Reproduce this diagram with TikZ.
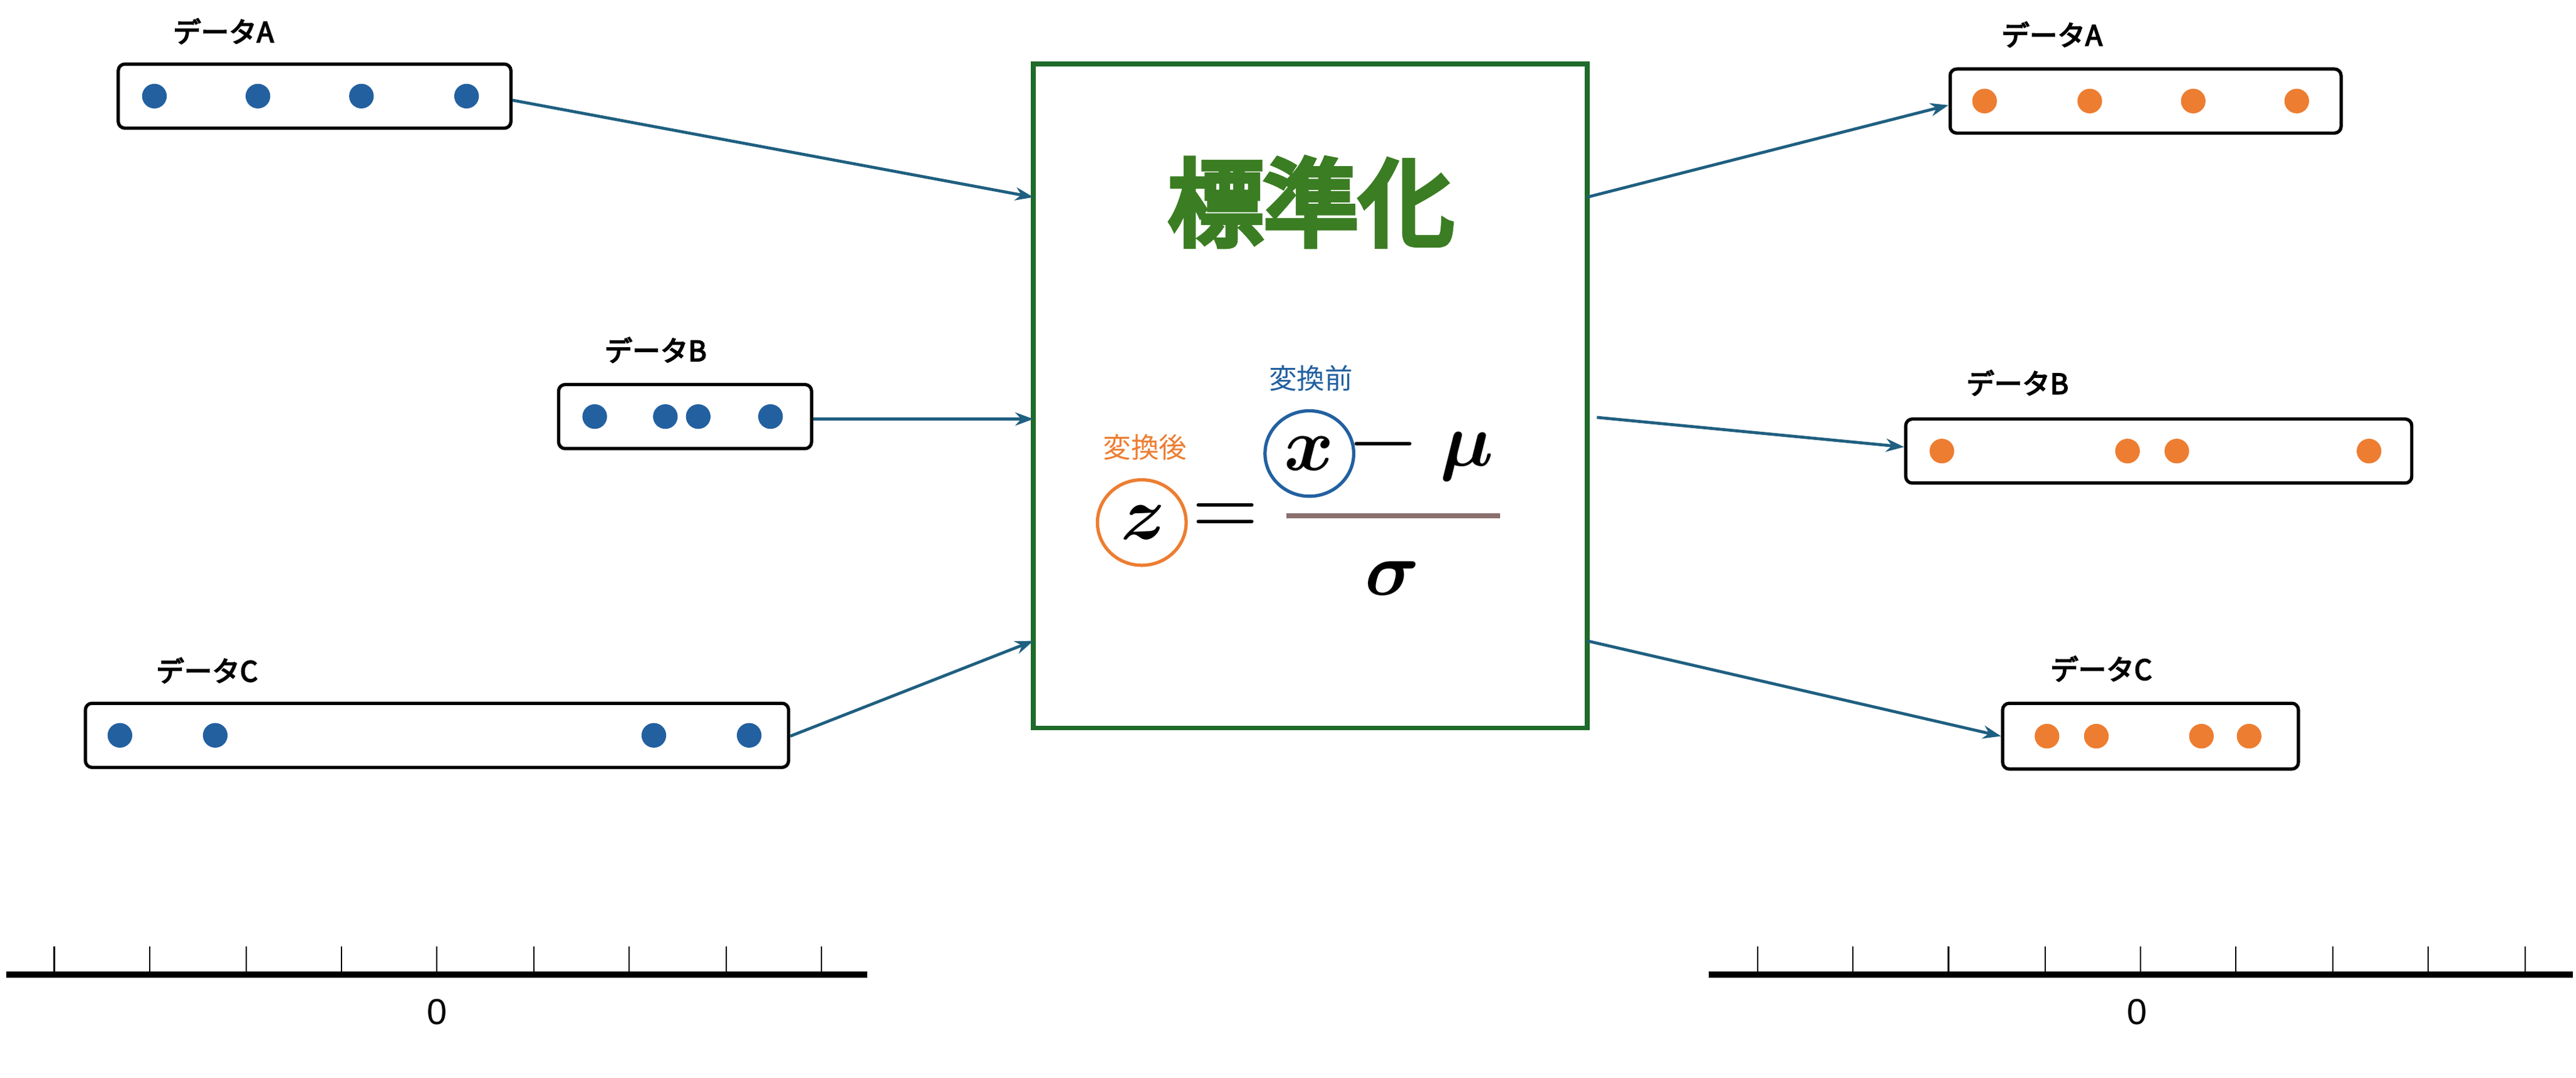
\documentclass[tikz,border=0pt]{standalone}
\usetikzlibrary{shapes.geometric,arrows.meta}
\usepackage{fontspec}
\setmainfont{Liberation Sans}
\newfontfamily\cjk{Noto Sans CJK JP}
\newfontfamily\cjkb[FakeBold=4]{Noto Sans CJK JP}
\newfontfamily\cjkh[FakeBold=6]{Noto Sans CJK JP}
\usepackage{unicode-math}
\setmathfont{Latin Modern Math}
\definecolor{dblue}{HTML}{2260A0}
\definecolor{orng}{HTML}{ED7D31}
\definecolor{grn}{HTML}{3B7D23}
\definecolor{gbox}{HTML}{1E6B2A}
\definecolor{arr}{HTML}{1F5F80}
\definecolor{frac}{HTML}{8B6F6F}
\tikzset{
 databox/.style={draw=black,line width=2pt,rounded corners=4pt},
 bdot/.style={circle,fill=dblue,inner sep=0pt,minimum size=15pt},
 odot/.style={circle,fill=orng,inner sep=0pt,minimum size=15pt},
 lab/.style={font=\cjkb\fontsize{17}{17}\selectfont,inner sep=0pt},
 conn/.style={draw=arr,line width=1.8pt,-{Stealth[length=11pt,width=8pt]}},
 tick/.style={line width=0.8pt},
 mth/.style={inner sep=0pt,font=\fontsize{46}{46}\selectfont},
}
\begin{document}
\begin{tikzpicture}[x=1pt,y=-1pt]
\useasboundingbox[fill=white] (0,0) rectangle (1568,656);
% left boxes
\node[databox,minimum width=239pt,minimum height=39pt] (LA) at (191.5,58.5) {};
\node[databox,minimum width=154pt,minimum height=39pt] (LB) at (417,253.5) {};
\node[databox,minimum width=428pt,minimum height=39pt] (LC) at (266,447.5) {};
\foreach \x/\n in {94/1,157/2,220/3,284/4} \node[bdot] (la\n) at (\x,58.5) {};
\foreach \x/\n in {362/1,405/2,425/3,469/4} \node[bdot] (lb\n) at (\x,253.5) {};
\foreach \x/\n in {73/1,131/2,398/3,456/4} \node[bdot] (lc\n) at (\x,447.5) {};
\node[lab] (tLA) at (136,19) {データA};
\node[lab] (tLB) at (399,213) {データB};
\node[lab] (tLC) at (126,408) {データC};
% right boxes
\node[databox,minimum width=238pt,minimum height=39pt] (RA) at (1306,61.5) {};
\node[databox,minimum width=308pt,minimum height=39pt] (RB) at (1314,274.5) {};
\node[databox,minimum width=180pt,minimum height=40pt] (RC) at (1309,448) {};
\foreach \x/\n in {1208/1,1272/2,1335/3,1398/4} \node[odot] (ra\n) at (\x,61.5) {};
\foreach \x/\n in {1182/1,1295/2,1325/3,1442/4} \node[odot] (rb\n) at (\x,274.5) {};
\foreach \x/\n in {1246/1,1276/2,1340/3,1369/4} \node[odot] (rc\n) at (\x,448) {};
\node[lab] (tRA) at (1249,21) {データA};
\node[lab] (tRB) at (1228,233) {データB};
\node[lab] (tRC) at (1279,407) {データC};
% central box
\node[draw=gbox,line width=3pt,minimum width=337pt,minimum height=404pt,inner sep=0pt] (G) at (797.5,241) {};
\node[text=grn,font=\cjkh\fontsize{58}{58}\selectfont,inner sep=0pt] (title) at (798,123) {標準化};
\node[text=orng,font=\cjk\fontsize{17}{17}\selectfont,inner sep=0pt] (after) at (697,272) {変換後};
\node[text=dblue,font=\cjk\fontsize{17}{17}\selectfont,inner sep=0pt] (before) at (798,230) {変換前};
\node[draw=orng,line width=2pt,ellipse,minimum width=54pt,minimum height=52pt,inner sep=0pt,font=\fontsize{46}{46}\selectfont] (z) at (695,318) {$\symbfit{z}$};
\node[mth,font=\fontsize{52}{52}\selectfont] (eq) at (746,316) {$\symbf{=}$};
\node[draw=dblue,line width=2pt,ellipse,minimum width=54pt,minimum height=52pt,inner sep=0pt,font=\fontsize{46}{46}\selectfont] (x) at (797,276) {$\symbfit{x}$};
\node[mth,font=\fontsize{52}{52}\selectfont] (minus) at (842,276) {$\symbf{-}$};
\node[mth] (mu) at (893,278) {$\symbfit{\mu}$};
\draw[frac,line width=3pt] (783,314) -- (913,314);
\node[mth] (sig) at (847,352) {$\symbfit{\sigma}$};
% connectors
\coordinate (gl1) at (629,120); \coordinate (gl2) at (629,255); \coordinate (gl3) at (629,390);
\coordinate (gr1) at (966,120); \coordinate (gr2) at (972,254); \coordinate (gr3) at (966,390);
\draw[conn] (LA.east |- 0,61) -- (gl1);
\draw[conn] (LB.east |- 0,255) -- (gl2);
\draw[conn] (LC.east |- 0,448) -- (gl3);
\draw[conn] (gr1) -- (RA.west |- 0,64);
\draw[conn] (gr2) -- (RB.west |- 0,272);
\draw[conn] (gr3) -- (RC.west);
% axes
\coordinate (a1) at (4,593); \coordinate (a2) at (528,593);
\draw[line width=4pt] (a1) -- (a2);
\foreach \x in {33,91,150,208,266,325,383,442,500} \draw[tick] (\x,576) -- (\x,593);
\node[font=\fontsize{22}{22}\selectfont,inner sep=0pt] (z1) at (266,616) {0};
\coordinate (b1) at (1040,593); \coordinate (b2) at (1566,593);
\draw[line width=4pt] (b1) -- (b2);
\foreach \x in {1070,1128,1186,1245,1303,1361,1420,1478,1537} \draw[tick] (\x,576) -- (\x,593);
\node[font=\fontsize{22}{22}\selectfont,inner sep=0pt] (z2) at (1301,616) {0};
\end{tikzpicture}
\end{document}
